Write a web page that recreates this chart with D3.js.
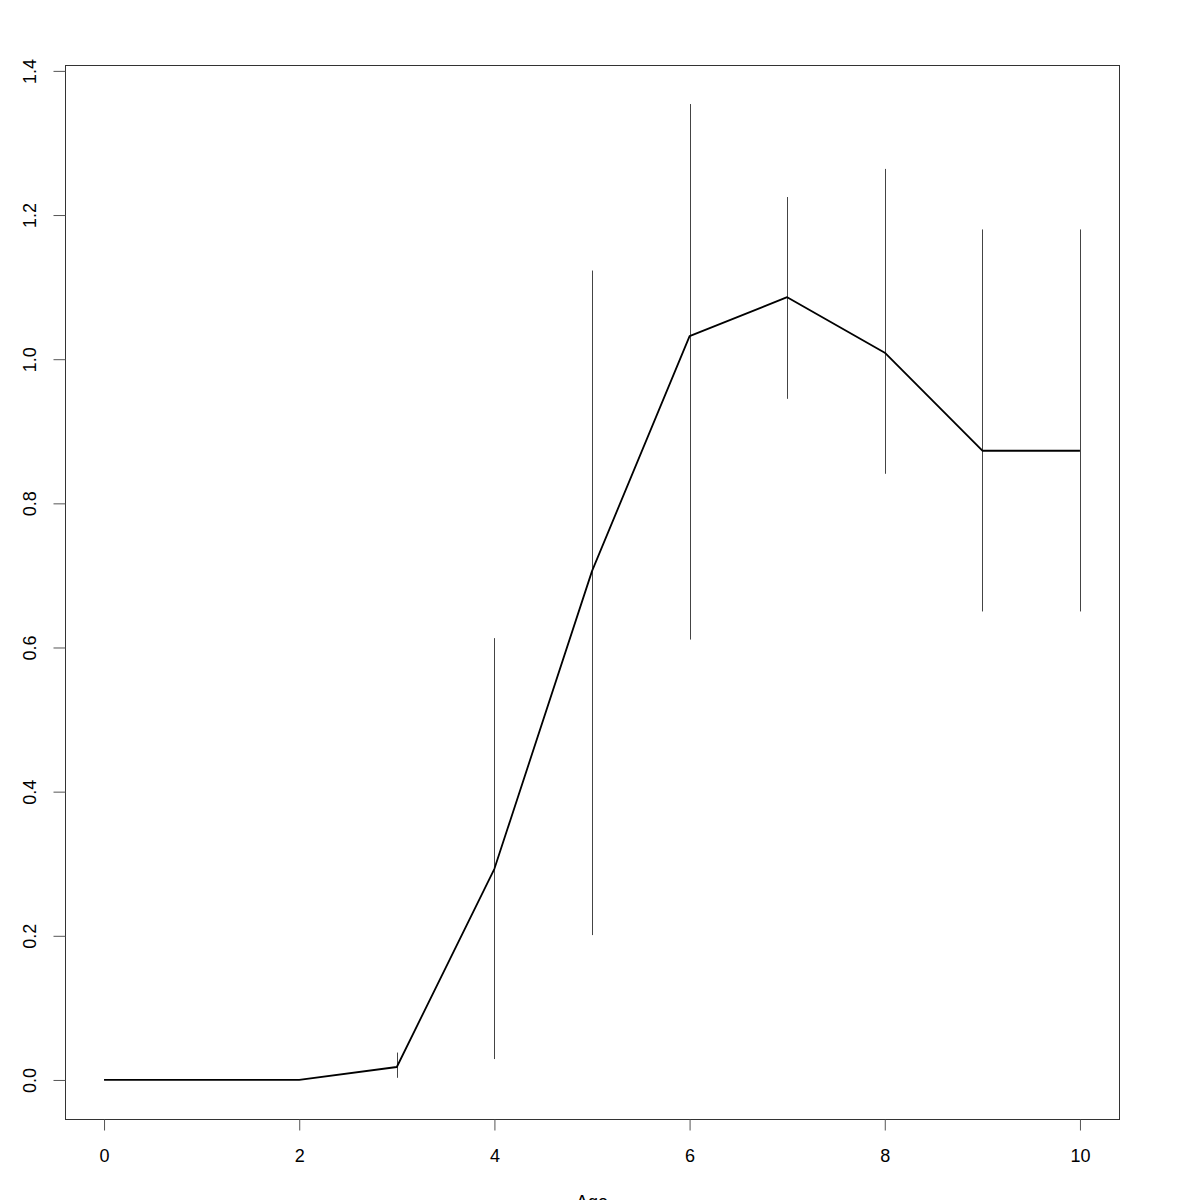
<!DOCTYPE html>
<html>
<head>
<meta charset="utf-8">
<script src="https://cdn.jsdelivr.net/npm/d3@7"></script>
<style>
  html, body { margin: 0; padding: 0; background: #fff; }
  svg { display: block; font-family: "Liberation Sans", Arial, Helvetica, sans-serif; }
</style>
</head>
<body>
<script>
// ---- data ----
const ages   = [0, 2, 3, 4, 5, 6, 7, 8, 9, 10];
const values = [0, 0, 0.018, 0.293, 0.706, 1.032, 1.086, 1.009, 0.873, 0.873];
const lower  = [0, 0, 0.003, 0.029, 0.201, 0.611, 0.945, 0.841, 0.650, 0.650];
const upper  = [0, 0, 0.038, 0.613, 1.123, 1.354, 1.225, 1.264, 1.180, 1.180];
const xTicks = [0, 2, 4, 6, 8, 10];
const yTicks = [0, 0.2, 0.4, 0.6, 0.8, 1.0, 1.2, 1.4];
const xLabel = "Age";

// ---- layout ----
const W = 1200, H = 1200;
const mLeft = 65, mRight = 1119, mTop = 65, mBottom = 1119;
const FS = 18;

const svg = d3.select("body").append("svg").attr("width", W).attr("height", H);

// R-style 4% axis expansion
const xMin = d3.min(ages), xMax = d3.max(ages);
const yMin = d3.min(lower), yMax = d3.max(upper);
const xPad = (xMax - xMin) * 0.04, yPad = (yMax - yMin) * 0.04;
const x = d3.scaleLinear().domain([xMin - xPad, xMax + xPad]).range([mLeft, mRight]);
const y = d3.scaleLinear().domain([yMin - yPad, yMax + yPad]).range([mBottom, mTop]);

// error bars
svg.append("g").selectAll("line").data(ages).join("line")
  .attr("x1", d => Math.round(x(d)) + 0.5)
  .attr("x2", d => Math.round(x(d)) + 0.5)
  .attr("y1", (d, i) => y(lower[i]))
  .attr("y2", (d, i) => y(upper[i]))
  .attr("stroke", "#444").attr("stroke-width", 1);

// main line
const line = d3.line().x(d => x(d[0])).y(d => y(d[1]));
svg.append("path")
  .datum(ages.map((a, i) => [a, values[i]]))
  .attr("d", line)
  .attr("fill", "none").attr("stroke", "#000").attr("stroke-width", 1.8)
  .attr("stroke-linejoin", "round");

// box
svg.append("rect")
  .attr("x", mLeft + 0.5).attr("y", mTop + 0.5)
  .attr("width", mRight - mLeft).attr("height", mBottom - mTop)
  .attr("fill", "none").attr("stroke", "#333").attr("stroke-width", 1);

// x axis
const xAxis = svg.append("g").attr("transform", `translate(0,${mBottom + 0.5})`)
  .call(d3.axisBottom(x).tickValues(xTicks).tickFormat(d3.format("d")).tickSize(11));
xAxis.select(".domain").remove();
xAxis.selectAll(".tick line").attr("stroke", "#555");
xAxis.selectAll(".tick text").attr("font-size", FS).attr("fill", "#000")
  .attr("font-family", "Liberation Sans, Arial, sans-serif")
  .attr("dy", null).attr("y", 42.5);

// y axis
const yAxis = svg.append("g").attr("transform", `translate(${mLeft + 0.5},0)`)
  .call(d3.axisLeft(y).tickValues(yTicks).tickFormat(d3.format(".1f")).tickSize(12));
yAxis.select(".domain").remove();
yAxis.selectAll(".tick line").attr("stroke", "#555");
yAxis.selectAll(".tick text")
  .attr("font-size", FS).attr("fill", "#000")
  .attr("font-family", "Liberation Sans, Arial, sans-serif")
  .attr("x", null).attr("dy", null)
  .attr("text-anchor", "middle")
  .attr("transform", "translate(-29.5,0) rotate(-90)");

// x label (partly below the page edge, as in the reference)
svg.append("text")
  .attr("x", (mLeft + mRight) / 2).attr("y", 1208)
  .attr("text-anchor", "middle").attr("font-size", FS).attr("fill", "#000")
  .text(xLabel);
</script>
</body>
</html>
